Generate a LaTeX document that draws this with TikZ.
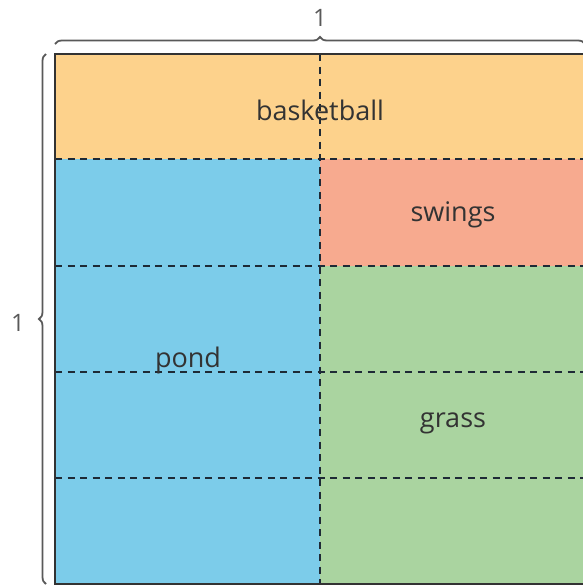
\documentclass[tikz,border=0pt]{standalone}
\usepackage{fontspec}
\setmainfont{Open Sans}
\usetikzlibrary{decorations.pathreplacing}
\definecolor{courtorange}{HTML}{FDD28C}
\definecolor{pondblue}{HTML}{7CCCEA}
\definecolor{swingsalmon}{HTML}{F7AA8F}
\definecolor{grassgreen}{HTML}{AAD4A0}
\definecolor{gridline}{HTML}{1E2A36}
\tikzset{
  gridrule/.style={gridline, line width=2pt, dash pattern=on 7pt off 5.5pt},
  sidebrace/.style={draw=black!65, line width=1.8pt,
    decorate, decoration={brace, amplitude=7pt}},
  arealabel/.style={font=\fontsize{27}{30}\selectfont, text=black!80},
  bracelabel/.style={font=\fontsize{24}{27}\selectfont, text=black!65},
}
\begin{document}
\begin{tikzpicture}[x=1pt, y=-1pt]
  \useasboundingbox (0,0) rectangle (583,587);
  \clip (0,0) rectangle (583,587);
  % regions of the park
  \fill[courtorange] (55,54) rectangle (585,159);
  \fill[pondblue] (55,159) rectangle (320,584);
  \fill[swingsalmon] (320,159) rectangle (585,266);
  \fill[grassgreen] (320,266) rectangle (585,584);
  % dashed grid
  \foreach \y in {159,266,372,478}
    \draw[gridrule] (55,\y) -- (585,\y);
  \draw[gridrule] (320,54) -- (320,584);
  % outline
  \draw[black!80, line width=1.8pt] (55,54) rectangle (585,584);
  % labels
  \node[arealabel] (basketball) at (320,110) {basketball};
  \node[arealabel] (swings) at (453,215) {swings};
  \node[arealabel] (pond) at (188,360) {pond};
  \node[arealabel] (grass) at (453,423) {grass};
  % braces
  \draw[sidebrace] (55,44) -- (585,44);
  \draw[sidebrace] (46,584) -- (46,54);
  \node[bracelabel] (toplen) at (320,18) {1};
  \node[bracelabel] (leftlen) at (18,323) {1};
\end{tikzpicture}
\end{document}
